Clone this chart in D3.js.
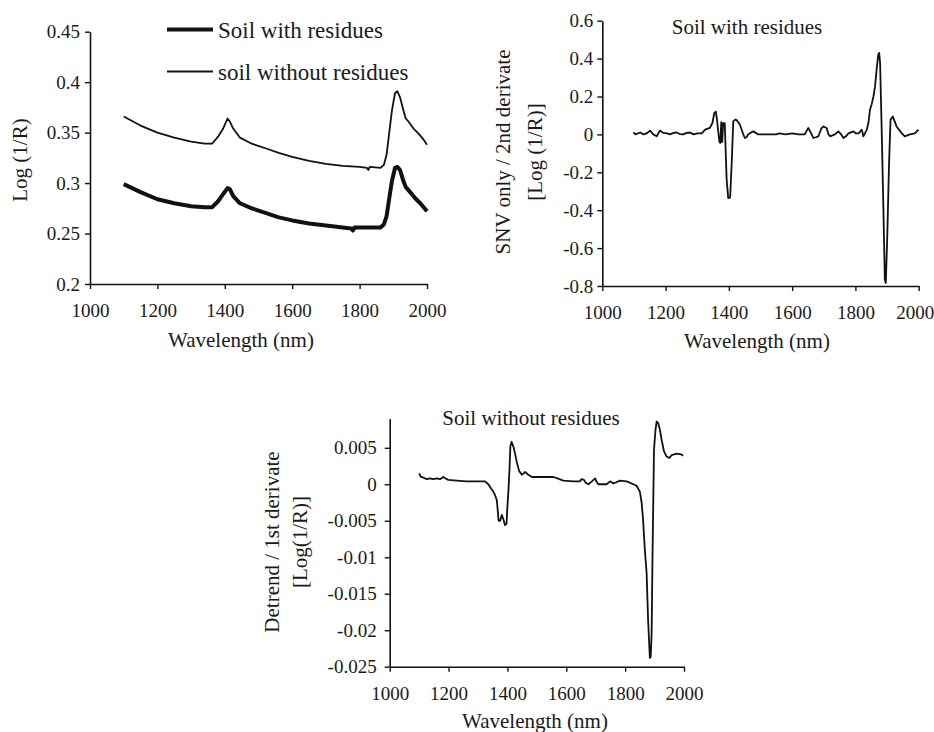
<!DOCTYPE html>
<html>
<head>
<meta charset="utf-8">
<script src="https://cdn.jsdelivr.net/npm/d3@7"></script>
<style>
  body { margin: 0; background: #fff; }
  svg text { font-family: "Liberation Serif", "Times New Roman", serif; fill: #1a1a1a; }
</style>
</head>
<body>
<svg width="934" height="732"></svg>
<script>
// wavelength ticks shared by all three panels
const xTicks = [1000, 1200, 1400, 1600, 1800, 2000];

// panel A: raw spectra, Log(1/R)
const logTicks = [0.2, 0.25, 0.3, 0.35, 0.4, 0.45];
const withResidues = [
  [1100,0.299],[1150,0.291],[1200,0.284],[1250,0.280],[1300,0.277],[1340,0.276],[1362,0.276],
  [1380,0.282],[1395,0.289],[1408,0.295],[1415,0.294],[1425,0.287],[1445,0.280],[1480,0.275],
  [1525,0.270],[1560,0.266],[1600,0.263],[1650,0.260],[1700,0.258],[1750,0.256],[1775,0.255],
  [1780,0.253],[1785,0.256],[1800,0.256],[1862,0.256],[1872,0.259],[1880,0.267],[1888,0.285],
  [1896,0.302],[1905,0.315],[1912,0.316],[1920,0.313],[1930,0.302],[1937,0.296],[1950,0.291],
  [1965,0.285],[1980,0.280],[2000,0.272]
];
const withoutResidues = [
  [1100,0.366],[1150,0.357],[1200,0.350],[1250,0.345],[1300,0.341],[1340,0.339],[1362,0.339],
  [1380,0.346],[1395,0.354],[1408,0.364],[1415,0.361],[1425,0.354],[1445,0.345],[1480,0.339],
  [1525,0.334],[1560,0.330],[1600,0.326],[1650,0.322],[1700,0.319],[1750,0.317],[1800,0.316],
  [1822,0.315],[1826,0.313],[1830,0.316],[1862,0.315],[1872,0.318],[1880,0.328],[1888,0.350],
  [1896,0.372],[1905,0.389],[1912,0.391],[1920,0.385],[1930,0.372],[1937,0.364],[1945,0.361],
  [1960,0.354],[1975,0.349],[1990,0.343],[2000,0.338]
];

// panel B: SNV + 2nd derivative, soil with residues
const snvTicks = [-0.8, -0.6, -0.4, -0.2, 0, 0.2, 0.4, 0.6];
const snvSecond = [
  [1098,0.011],[1105,0.0],[1112,0.005],[1120,0.01],[1130,0.0],[1140,0.005],[1151,0.02],[1161,0.0],
  [1172,-0.01],[1182,0.02],[1193,0.008],[1205,0.005],[1214,0.0],[1225,0.008],[1235,0.01],[1245,0.002],
  [1256,0.0],[1266,0.008],[1277,0.01],[1288,0.0],[1300,0.005],[1314,0.005],[1325,0.025],[1340,0.034],
  [1348,0.06],[1354,0.113],[1359,0.12],[1363,0.07],[1367,0.007],[1370,-0.037],[1373,-0.045],[1376,0.065],
  [1379,-0.04],[1382,0.06],[1387,0.06],[1393,-0.239],[1398,-0.336],[1404,-0.334],[1409,-0.151],
  [1414,0.069],[1420,0.078],[1425,0.075],[1435,0.051],[1446,-0.002],[1451,-0.019],[1456,-0.015],
  [1461,0.0],[1470,0.01],[1477,0.016],[1485,0.008],[1493,0.0],[1520,0.0],[1550,0.0],[1560,0.005],
  [1580,0.0],[1600,0.005],[1620,0.0],[1640,0.0],[1646,0.02],[1651,0.034],[1661,0.003],[1667,-0.019],
  [1675,-0.015],[1683,-0.01],[1692,0.03],[1699,0.042],[1709,0.034],[1715,0.0],[1720,-0.01],[1735,0.0],
  [1746,0.016],[1755,0.0],[1762,-0.019],[1770,-0.01],[1778,0.005],[1794,0.016],[1802,0.005],[1810,0.005],
  [1820,0.025],[1825,-0.01],[1830,0.005],[1836,0.025],[1841,0.06],[1846,0.13],[1851,0.157],[1857,0.2],
  [1862,0.253],[1867,0.341],[1872,0.42],[1875,0.43],[1878,0.377],[1883,0.025],[1888,-0.362],
  [1893,-0.767],[1896,-0.784],[1901,-0.52],[1906,-0.169],[1911,0.078],[1918,0.095],[1930,0.042],
  [1940,0.02],[1946,0.007],[1956,-0.01],[1972,0.0],[1988,0.005],[1999,0.025]
];

// panel C: detrend + 1st derivative, soil without residues
const detrendTicks = [-0.025, -0.02, -0.015, -0.01, -0.005, 0, 0.005];
const detrendFirst = [
  [1100,0.0015],[1106,0.001],[1115,0.0009],[1126,0.0007],[1137,0.0008],[1148,0.0007],[1160,0.0008],
  [1171,0.0007],[1182,0.001],[1190,0.0008],[1199,0.0006],[1228,0.0005],[1260,0.0004],[1300,0.0004],
  [1324,0.0004],[1335,0.0],[1345,-0.0006],[1352,-0.001],[1358,-0.0015],[1364,-0.0022],[1367,-0.0035],
  [1370,-0.005],[1375,-0.005],[1381,-0.0042],[1386,-0.0048],[1392,-0.0056],[1397,-0.0054],[1400,-0.003],
  [1403,-0.0012],[1407,0.002],[1410,0.0052],[1414,0.0058],[1420,0.0052],[1426,0.0042],[1432,0.003],
  [1440,0.0018],[1449,0.0013],[1455,0.0015],[1460,0.0017],[1466,0.0015],[1471,0.0013],[1483,0.001],
  [1511,0.001],[1556,0.001],[1570,0.0008],[1590,0.0005],[1624,0.0004],[1646,0.0004],[1652,0.0007],
  [1660,0.0006],[1666,0.0002],[1675,0.0],[1687,0.0004],[1698,0.0008],[1702,0.0004],[1709,0.0],
  [1737,0.0],[1749,0.0004],[1760,0.0001],[1783,0.0005],[1805,0.0004],[1828,0.0],[1839,-0.0002],
  [1850,-0.001],[1856,-0.0025],[1861,-0.0049],[1867,-0.009],[1873,-0.0122],[1878,-0.0186],
  [1884,-0.0238],[1887,-0.0236],[1890,-0.0204],[1893,-0.0099],[1898,0.0047],[1903,0.0074],
  [1907,0.0086],[1912,0.0084],[1918,0.0075],[1924,0.0061],[1932,0.0045],[1941,0.0038],[1950,0.0036],
  [1958,0.004],[1975,0.0042],[1990,0.0041],[1997,0.0039]
];

const svg = d3.select("svg");
const fmt = (d) => String(+d.toFixed(4));

// draws axes + titles for one panel, returns the scales
function panel(opt) {
  const x = d3.scaleLinear().domain([1000, 2000]).range(opt.xr);
  const y = d3.scaleLinear().domain(opt.yd).range(opt.yr);

  const gx = svg.append("g")
    .attr("transform", `translate(0,${opt.yr[0]})`)
    .call(d3.axisBottom(x).tickValues(xTicks).tickFormat(d3.format("d"))
      .tickSize(5).tickSizeOuter(0).tickPadding(15));
  const gy = svg.append("g")
    .attr("transform", `translate(${opt.xr[0]},0)`)
    .call(d3.axisLeft(y).tickValues(opt.yTicks).tickFormat(fmt)
      .tickSize(5).tickSizeOuter(0).tickPadding(opt.pad));

  [gx, gy].forEach((g) => {
    g.select(".domain").attr("stroke", "#111").attr("stroke-width", 1.6);
    g.selectAll(".tick line").attr("stroke", "#111").attr("stroke-width", 1.4);
    g.selectAll(".tick text").style("font-size", "19px").attr("fill", "#1a1a1a");
  });
  // last label sits against the page edge on the right panel
  if (opt.lastShift) {
    gx.selectAll(".tick text").filter((d) => d === 2000).attr("dx", opt.lastShift);
  }

  svg.append("text")
    .attr("x", opt.xt[0]).attr("y", opt.xt[1])
    .attr("text-anchor", "middle").attr("dy", "0.35em")
    .style("font-size", "21px")
    .text("Wavelength (nm)");

  opt.ylab.forEach(([txt, cx, cy]) => {
    svg.append("text")
      .attr("transform", `translate(${cx},${cy}) rotate(-90)`)
      .attr("text-anchor", "middle").attr("dy", "0.35em")
      .style("font-size", "21px")
      .text(txt);
  });

  if (opt.title) {
    svg.append("text")
      .attr("x", opt.title[1]).attr("y", opt.title[2])
      .attr("text-anchor", "middle").attr("dy", "0.35em")
      .style("font-size", "21px")
      .text(opt.title[0]);
  }
  return { x, y };
}

function drawLine(s, data, w) {
  const line = d3.line().x((d) => s.x(d[0])).y((d) => s.y(d[1]));
  svg.append("path")
    .attr("fill", "none")
    .attr("stroke", "#111")
    .attr("stroke-width", w)
    .attr("stroke-linejoin", "round")
    .attr("d", line(data));
}

// top left
const a = panel({
  xr: [90, 427], yr: [284, 31.7], yd: [0.2, 0.45], yTicks: logTicks, pad: 5,
  xt: [241, 340], ylab: [["Log (1/R)", 20, 160]]
});
drawLine(a, withoutResidues, 1.8);
drawLine(a, withResidues, 4);

// legend
const legend = [["Soil with residues", 4, 29.5], ["soil without residues", 1.8, 71.5]];
legend.forEach(([label, w, ly]) => {
  svg.append("line")
    .attr("x1", 167).attr("x2", 213).attr("y1", ly).attr("y2", ly)
    .attr("stroke", "#111").attr("stroke-width", w);
  svg.append("text")
    .attr("x", 218).attr("y", ly).attr("dy", "0.35em")
    .style("font-size", "23px")
    .text(label);
});

// top right
const b = panel({
  xr: [602.3, 918.7], yr: [286, 20.7], yd: [-0.8, 0.6], yTicks: snvTicks, pad: 4,
  xt: [757, 341], lastShift: -4,
  ylab: [["SNV only / 2nd derivate", 503, 152], ["[Log (1/R)]", 535, 152]],
  title: ["Soil with residues", 747, 27]
});
drawLine(b, snvSecond, 1.8);

// bottom
const c = panel({
  xr: [389.7, 684], yr: [666.7, 418.6], yd: [-0.025, 0.009], yTicks: detrendTicks, pad: 8,
  xt: [535, 721],
  ylab: [["Detrend / 1st derivate", 272, 542], ["[Log(1/R)]", 300, 542]],
  title: ["Soil without residues", 531, 418]
});
drawLine(c, detrendFirst, 1.8);
</script>
</body>
</html>
